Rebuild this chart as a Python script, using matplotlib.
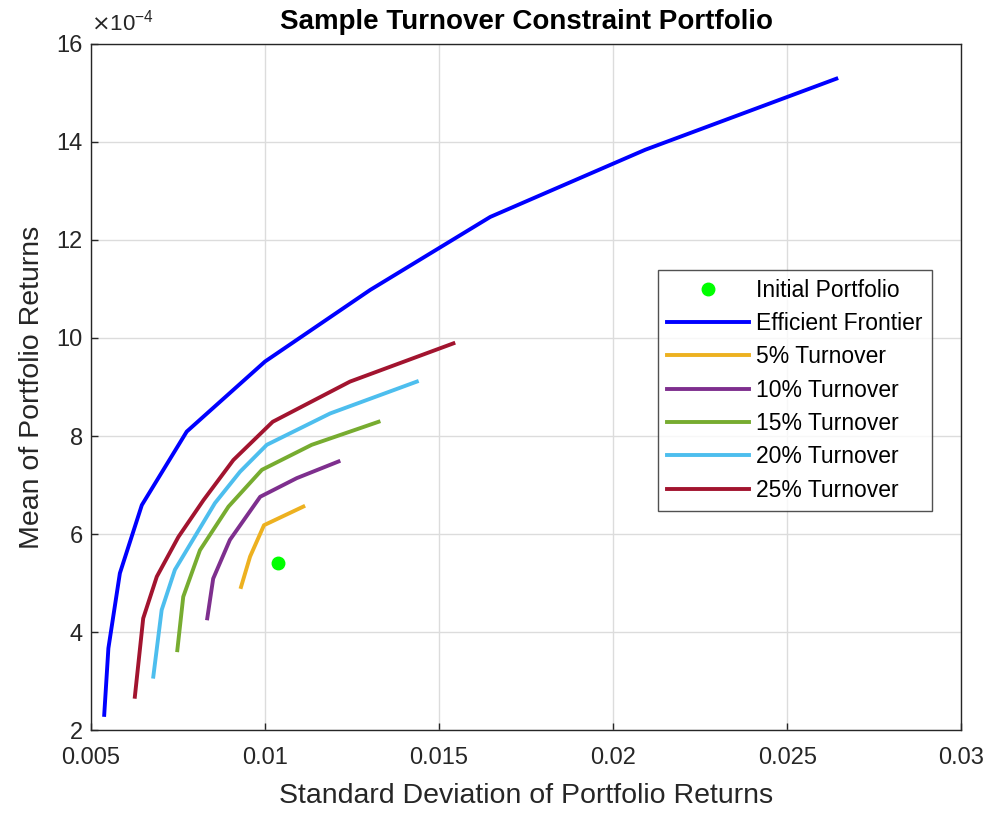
import matplotlib
matplotlib.use("Agg")
import matplotlib.pyplot as plt
from matplotlib.ticker import FixedLocator

plt.rcParams['font.family'] = ['Liberation Sans', 'DejaVu Sans']

# Data (std dev, mean return)
ef_x = [0.00538, 0.00550, 0.00583, 0.00646, 0.00775, 0.0100, 0.01302, 0.01647, 0.02092, 0.02641]
ef_y = [2.31e-4, 3.67e-4, 5.20e-4, 6.59e-4, 8.09e-4, 9.52e-4, 10.98e-4, 12.47e-4, 13.84e-4, 15.29e-4]

t5_x = [0.00931, 0.00957, 0.00997, 0.01110]
t5_y = [4.92e-4, 5.54e-4, 6.18e-4, 6.56e-4]

t10_x = [0.00834, 0.00851, 0.00899, 0.00986, 0.01091, 0.01211]
t10_y = [4.28e-4, 5.09e-4, 5.88e-4, 6.76e-4, 7.14e-4, 7.48e-4]

t15_x = [0.00748, 0.00765, 0.00813, 0.00895, 0.00991, 0.01134, 0.01326]
t15_y = [3.63e-4, 4.72e-4, 5.67e-4, 6.56e-4, 7.31e-4, 7.82e-4, 8.29e-4]

t20_x = [0.00679, 0.00703, 0.00741, 0.00856, 0.00928, 0.01005, 0.01187, 0.01436]
t20_y = [3.09e-4, 4.45e-4, 5.27e-4, 6.63e-4, 7.27e-4, 7.82e-4, 8.46e-4, 9.11e-4]

t25_x = [0.00626, 0.00650, 0.00689, 0.00751, 0.00823, 0.00909, 0.01022, 0.01244, 0.01541]
t25_y = [2.68e-4, 4.28e-4, 5.13e-4, 5.94e-4, 6.69e-4, 7.51e-4, 8.29e-4, 9.11e-4, 9.89e-4]

init_x = [0.01037]
init_y = [5.40e-4]

x_ticks = [0.005, 0.01, 0.015, 0.02, 0.025, 0.03]
x_tick_labels = ["0.005", "0.01", "0.015", "0.02", "0.025", "0.03"]
y_ticks = [2e-4, 4e-4, 6e-4, 8e-4, 10e-4, 12e-4, 14e-4, 16e-4]
y_tick_labels = ["2", "4", "6", "8", "10", "12", "14", "16"]

fig = plt.figure(figsize=(9.89, 8.13), dpi=100)
ax = fig.add_axes([0.092, 0.102, 0.880, 0.844])

lw = 2.8
ax.plot(init_x, init_y, 'o', color=(0, 1, 0), markersize=9, label='Initial Portfolio', zorder=5)
ax.plot(ef_x, ef_y, color=(0, 0, 1), lw=lw, label='Efficient Frontier')
ax.plot(t5_x, t5_y, color='#EDB120', lw=lw, label='5% Turnover')
ax.plot(t10_x, t10_y, color='#7E2F8E', lw=lw, label='10% Turnover')
ax.plot(t15_x, t15_y, color='#77AC30', lw=lw, label='15% Turnover')
ax.plot(t20_x, t20_y, color='#4DBEEE', lw=lw, label='20% Turnover')
ax.plot(t25_x, t25_y, color='#A2142F', lw=lw, label='25% Turnover')

ax.set_xlim(0.005, 0.03)
ax.set_ylim(2e-4, 16e-4)
ax.xaxis.set_major_locator(FixedLocator(x_ticks))
ax.yaxis.set_major_locator(FixedLocator(y_ticks))
ax.set_xticklabels(x_tick_labels)
ax.set_yticklabels(y_tick_labels)

tc = '#262626'
ax.tick_params(direction='in', length=5, width=1, colors=tc, labelsize=17,
               top=False, right=False)
ax.tick_params(axis='x', pad=12)
ax.tick_params(axis='y', pad=6)
for s in ax.spines.values():
    s.set_color(tc)
    s.set_linewidth(1)
ax.grid(True, color='#dcdcdc', linewidth=1)
ax.set_axisbelow(True)

ax.set_xlabel('Standard Deviation of Portfolio Returns', fontsize=20.5, color=tc, labelpad=10)
ax.set_ylabel('Mean of Portfolio Returns', fontsize=20.5, color=tc, labelpad=8)
ax.set_title('Sample Turnover Constraint Portfolio', fontsize=20, fontweight='bold',
             color='black', pad=11)
ax.text(0.0, 1.012, r'$\times\mathregular{10^{-4}}$', transform=ax.transAxes,
        fontsize=16, color=tc, ha='left', va='bottom')

leg = ax.legend(loc='upper left', bbox_to_anchor=(0.651, 0.671), fontsize=16.5,
                frameon=True, fancybox=False, edgecolor=tc, handlelength=3.6,
                handletextpad=0.3, borderpad=0.4, labelspacing=0.45, borderaxespad=0)
leg.get_frame().set_linewidth(1)

fig.savefig('out.png', dpi=100)
